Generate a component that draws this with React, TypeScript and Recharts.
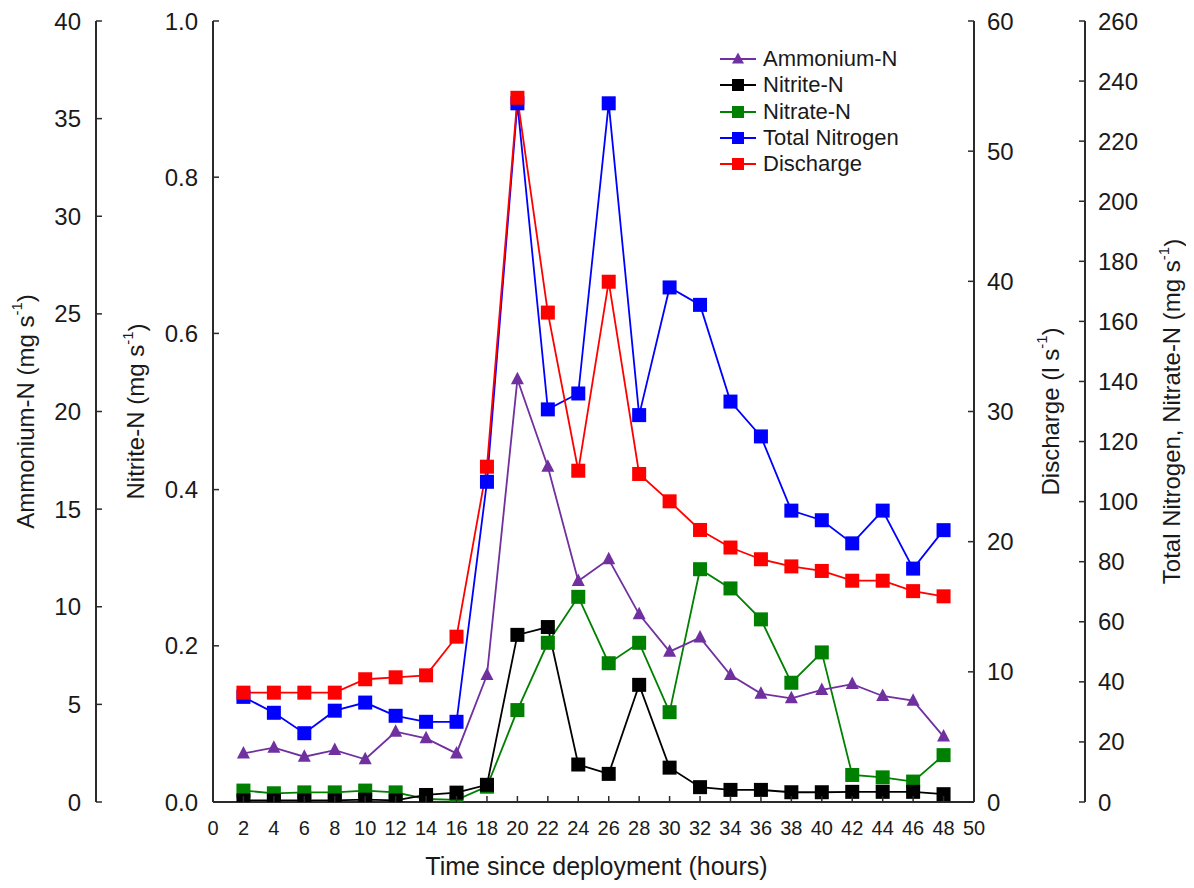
import React from 'react';
import { LineChart, Line, XAxis, YAxis, Legend } from 'recharts';

const FONT = '"Liberation Sans", Arial, Helvetica, sans-serif';
const TEXT = '#1a1a1a';
const AXIS = '#2b2b2b';

// ---- data ----
const hours = [2, 4, 6, 8, 10, 12, 14, 16, 18, 20, 22, 24, 26, 28, 30, 32, 34, 36, 38, 40, 42, 44, 46, 48];
const ammonium = [2.49, 2.78, 2.32, 2.66, 2.19, 3.6, 3.26, 2.49, 6.5, 21.65, 17.17, 11.32, 12.43, 9.61, 7.7, 8.42, 6.5, 5.55, 5.31, 5.74, 6.04, 5.43, 5.19, 3.35];
const nitrite = [0.002, 0.002, 0.002, 0.002, 0.003, 0.002, 0.009, 0.012, 0.022, 0.214, 0.224, 0.048, 0.036, 0.15, 0.044, 0.019, 0.0155, 0.0155, 0.0125, 0.0125, 0.013, 0.013, 0.013, 0.01];
const nitrate = [3.8, 2.9, 3.2, 3.2, 3.8, 3.2, 1.0, 0.7, 5.1, 30.6, 53.0, 68.3, 46.2, 53.0, 29.9, 77.5, 71.1, 60.8, 39.7, 49.8, 9.0, 8.2, 6.8, 15.6];
const totalNitrogen = [35.0, 29.7, 22.9, 30.4, 33.1, 28.7, 26.7, 26.7, 106.6, 232.6, 130.7, 136.0, 232.6, 128.8, 171.3, 165.5, 133.3, 121.7, 97.0, 93.8, 86.1, 97.0, 77.7, 90.5];
const discharge = [8.4, 8.4, 8.4, 8.4, 9.43, 9.58, 9.73, 12.7, 25.76, 54.1, 37.6, 25.45, 39.97, 25.2, 23.1, 20.9, 19.55, 18.65, 18.1, 17.75, 17.0, 17.0, 16.2, 15.8];

const xTicks = [0, 2, 4, 6, 8, 10, 12, 14, 16, 18, 20, 22, 24, 26, 28, 30, 32, 34, 36, 38, 40, 42, 44, 46, 48, 50];
const ammoniumTicks = [0, 5, 10, 15, 20, 25, 30, 35, 40];
const nitriteTicks = [0, 0.2, 0.4, 0.6, 0.8, 1.0];
const dischargeTicks = [0, 10, 20, 30, 40, 50, 60];
const tnTicks = [0, 20, 40, 60, 80, 100, 120, 140, 160, 180, 200, 220, 240, 260];

const legendItems = [
  { name: 'Ammonium-N', color: '#7030A0', shape: 'triangle' },
  { name: 'Nitrite-N', color: '#000000', shape: 'square' },
  { name: 'Nitrate-N', color: '#008000', shape: 'square' },
  { name: 'Total Nitrogen', color: '#0000FF', shape: 'square' },
  { name: 'Discharge', color: '#FF0000', shape: 'square' },
];

const data = hours.map((h, i) => ({
  hour: h,
  ammonium: ammonium[i],
  nitrite: nitrite[i],
  nitrate: nitrate[i],
  totalNitrogen: totalNitrogen[i],
  discharge: discharge[i],
}));

// axis ids (sorted alphabetically by the library: first = nearest the plot)
const NIT = 'y1nit';
const AMM = 'y2amm';
const DIS = 'y3dis';
const TN = 'y4tn';

// ---- markers ----
const squareDot = (color: string, tag: string) => (p: any) => {
  if (p.cx == null || p.cy == null) return <g key={`${tag}-${p.index}`} />;
  return <rect key={`${tag}-${p.index}`} x={p.cx - 7} y={p.cy - 7} width={14} height={14} fill={color} />;
};
const triangleDot = (color: string, tag: string) => (p: any) => {
  if (p.cx == null || p.cy == null) return <g key={`${tag}-${p.index}`} />;
  const { cx, cy } = p;
  return <polygon key={`${tag}-${p.index}`} points={`${cx},${cy - 7.5} ${cx - 6.5},${cy + 5} ${cx + 6.5},${cy + 5}`} fill={color} />;
};

// ---- ticks (inward tick marks) ----
const fmt = (v: number, digits: number) => (digits > 0 ? v.toFixed(digits) : String(v));

const LeftTick = (props: any) => {
  const { x, y, payload, digits } = props;
  return (
    <g>
      <line x1={x} x2={x + 6} y1={y} y2={y} stroke={AXIS} strokeWidth={1.5} />
      <text x={x - 15} y={y} textAnchor="end" dominantBaseline="central" fontSize={24} fontFamily={FONT} fill={TEXT}>
        {fmt(payload.value, digits)}
      </text>
    </g>
  );
};
const RightTick = (props: any) => {
  const { x, y, payload } = props;
  return (
    <g>
      <line x1={x} x2={x - 6} y1={y} y2={y} stroke={AXIS} strokeWidth={1.5} />
      <text x={x + 13} y={y} textAnchor="start" dominantBaseline="central" fontSize={24} fontFamily={FONT} fill={TEXT}>
        {String(payload.value)}
      </text>
    </g>
  );
};
const BottomTick = (props: any) => {
  const { x, y, payload } = props;
  return (
    <g>
      <line x1={x} x2={x} y1={y} y2={y - 6} stroke={AXIS} strokeWidth={1.5} />
      <text x={x} y={y + 26} textAnchor="middle" dominantBaseline="central" fontSize={20} fontFamily={FONT} fill={TEXT}>
        {String(payload.value)}
      </text>
    </g>
  );
};

// ---- axis titles ----
const rotatedTitle = (main: string, unit: string, dx: number) => (props: any) => {
  const vb = props.viewBox || {};
  const cx = vb.x + vb.width / 2 + dx;
  const cy = vb.y + vb.height / 2;
  return (
    <text
      transform={`translate(${cx},${cy}) rotate(-90)`}
      textAnchor="middle"
      dominantBaseline="central"
      fontSize={24}
      fontFamily={FONT}
      fill={TEXT}
    >
      {`${main} (${unit} s`}
      <tspan dy={-9} fontSize={15}>-1</tspan>
      <tspan dy={9}>)</tspan>
    </text>
  );
};
const xTitle = (props: any) => {
  const vb = props.viewBox || {};
  return (
    <text x={vb.x + vb.width / 2 + 3} y={vb.y + 64} textAnchor="middle" dominantBaseline="central" fontSize={25} fontFamily={FONT} fill={TEXT}>
      Time since deployment (hours)
    </text>
  );
};

// ---- legend ----
const LegendBox = () => (
  <div style={{ fontFamily: FONT, fontSize: 22, color: TEXT }}>
    {legendItems.map((s) => (
      <div key={s.name} style={{ display: 'flex', alignItems: 'center', height: 26.3, whiteSpace: 'nowrap' }}>
        <svg width={40} height={20} style={{ display: 'block' }}>
          <line x1={2} x2={38} y1={10} y2={10} stroke={s.color} strokeWidth={2} />
          {s.shape === 'triangle' ? (
            <polygon points="20,3.5 14,14.5 26,14.5" fill={s.color} />
          ) : (
            <rect x={14} y={4} width={12} height={12} fill={s.color} />
          )}
        </svg>
        <span style={{ marginLeft: 5, lineHeight: '22px' }}>{s.name}</span>
      </div>
    ))}
  </div>
);

export default function App() {
  return (
    <div style={{ width: 1178, height: 872 }}>
      <LineChart width={1178} height={872} data={data} margin={{ top: 13, right: 0, bottom: 0, left: 0 }}>
        <XAxis
          dataKey="hour"
          type="number"
          domain={[0, 50]}
          ticks={xTicks}
          interval={0}
          height={78}
          tickSize={0}
          tickMargin={0}
          tick={(p: any) => <BottomTick {...p} />}
          tickLine={false}
          axisLine={{ stroke: AXIS, strokeWidth: 2 }}
          label={{ content: xTitle }}
        />
        <XAxis
          xAxisId="top"
          orientation="top"
          type="number"
          domain={[0, 50]}
          height={0}
          tick={false}
          tickLine={false}
          axisLine={{ stroke: AXIS, strokeWidth: 2 }}
        />
        <YAxis
          yAxisId={NIT}
          orientation="left"
          width={117}
          domain={[0, 1]}
          ticks={nitriteTicks}
          interval={0}
          allowDataOverflow
          tickSize={0}
          tickMargin={0}
          tickLine={false}
          tick={(p: any) => <LeftTick {...p} digits={1} />}
          axisLine={{ stroke: AXIS, strokeWidth: 2 }}
          label={{ content: rotatedTitle('Nitrite-N', 'mg', -19) }}
        />
        <YAxis
          yAxisId={AMM}
          orientation="left"
          width={88}
          domain={[0, 40]}
          ticks={ammoniumTicks}
          interval={0}
          allowDataOverflow
          tickSize={0}
          tickMargin={0}
          tickLine={false}
          tick={(p: any) => <LeftTick {...p} digits={0} />}
          axisLine={{ stroke: AXIS, strokeWidth: 2 }}
          label={{ content: rotatedTitle('Ammonium-N', 'mg', -27) }}
        />
        <YAxis
          yAxisId={DIS}
          orientation="right"
          width={111}
          domain={[0, 60]}
          ticks={dischargeTicks}
          interval={0}
          allowDataOverflow
          tickSize={0}
          tickMargin={0}
          tickLine={false}
          tick={(p: any) => <RightTick {...p} />}
          axisLine={{ stroke: AXIS, strokeWidth: 2 }}
          label={{ content: rotatedTitle('Discharge', 'l', 20.5) }}
        />
        <YAxis
          yAxisId={TN}
          orientation="right"
          width={101}
          domain={[0, 260]}
          ticks={tnTicks}
          interval={0}
          allowDataOverflow
          tickSize={0}
          tickMargin={0}
          tickLine={false}
          tick={(p: any) => <RightTick {...p} />}
          axisLine={{ stroke: AXIS, strokeWidth: 2 }}
          label={{ content: rotatedTitle('Total Nitrogen, Nitrate-N', 'mg', 36) }}
        />
        <Legend
          layout="vertical"
          align="center"
          verticalAlign="middle"
          content={() => <LegendBox />}
          wrapperStyle={{ top: 38, left: 710, width: 260 }}
        />
        <Line yAxisId={TN} dataKey="nitrate" name="Nitrate-N" type="linear" stroke="#008000" strokeWidth={1.8} dot={squareDot('#008000', 'no3')} activeDot={false} isAnimationActive={false} legendType="square" />
        <Line yAxisId={NIT} dataKey="nitrite" name="Nitrite-N" type="linear" stroke="#000000" strokeWidth={1.8} dot={squareDot('#000000', 'no2')} activeDot={false} isAnimationActive={false} legendType="square" />
        <Line yAxisId={TN} dataKey="totalNitrogen" name="Total Nitrogen" type="linear" stroke="#0000FF" strokeWidth={1.8} dot={squareDot('#0000FF', 'tn')} activeDot={false} isAnimationActive={false} legendType="square" />
        <Line yAxisId={AMM} dataKey="ammonium" name="Ammonium-N" type="linear" stroke="#7030A0" strokeWidth={1.8} dot={triangleDot('#7030A0', 'nh4')} activeDot={false} isAnimationActive={false} legendType="triangle" />
        <Line yAxisId={DIS} dataKey="discharge" name="Discharge" type="linear" stroke="#FF0000" strokeWidth={1.8} dot={squareDot('#FF0000', 'q')} activeDot={false} isAnimationActive={false} legendType="square" />
      </LineChart>
    </div>
  );
}
